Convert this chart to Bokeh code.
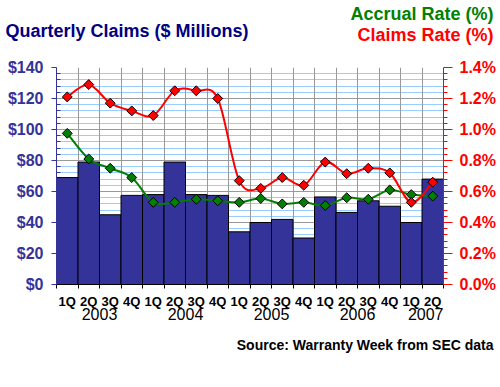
import numpy as np
from bokeh.plotting import figure
from bokeh.models import (Range1d, LinearAxis, FixedTicker, PrintfTickFormatter,
                          Label, Grid)
from bokeh.embed import file_html
from bokeh.resources import INLINE

# ---- data ----
quarters = ["1Q", "2Q", "3Q", "4Q", "1Q", "2Q", "3Q", "4Q", "1Q", "2Q", "3Q", "4Q",
            "1Q", "2Q", "3Q", "4Q", "1Q", "2Q"]
quarter_years = [2003] * 4 + [2004] * 4 + [2005] * 4 + [2006] * 4 + [2007] * 2
years = [2003, 2004, 2005, 2006, 2007]
claims = [69, 79, 45, 57.5, 58, 79, 58, 57.5, 34, 40, 42, 30, 56.5, 46.5, 54, 50.5, 40, 68]
claims_rate = [1.21, 1.29, 1.17, 1.12, 1.09, 1.25, 1.25, 1.20, 0.67, 0.62, 0.69, 0.64,
               0.79, 0.715, 0.75, 0.72, 0.53, 0.66]
accrual_rate = [0.975, 0.81, 0.75, 0.69, 0.53, 0.53, 0.55, 0.54, 0.53, 0.555, 0.52, 0.53,
                0.51, 0.56, 0.55, 0.61, 0.58, 0.57]
claims_ticks = [0, 20, 40, 60, 80, 100, 120, 140]
rate_ticks = [0.0, 0.2, 0.4, 0.6, 0.8, 1.0, 1.2, 1.4]

W, H = 500, 387
FL, FR, FT, FB = 56, 443, 67, 305   # frame edges in canvas pixels
SHIFT = 7                           # label baseline correction (px)
FONT = "Liberation Sans"
NAVY = "#000080"
BAR = "#333399"
GREEN = "#008000"
RED = "#FF0000"

n = len(claims)
centers = np.arange(n) + 0.5
bounds = np.arange(n + 1).astype(float)
YMAX = claims_ticks[-1]

p = figure(width=W, height=H, x_range=Range1d(0, n), y_range=Range1d(0, YMAX),
           x_axis_type=None, y_axis_type=None, output_backend="svg",
           toolbar_location=None, min_border_left=FL, min_border_right=W - FR,
           min_border_top=FT, min_border_bottom=H - FB)
p.outline_line_color = None
p.background_fill_color = "white"
p.border_fill_color = "white"
p.extra_y_ranges = {"rate": Range1d(rate_ticks[0], rate_ticks[-1])}

left_minor = [v for v in np.linspace(0, 140, 36) if v % 20 != 0]
rate_minor = [v / 100.0 for v in left_minor]

# grids
p.add_layout(Grid(dimension=1, ticker=FixedTicker(ticks=claims_ticks, minor_ticks=left_minor),
                  grid_line_color="#999999", minor_grid_line_color="#99CCFF"))
p.add_layout(Grid(dimension=0, ticker=FixedTicker(ticks=list(bounds)),
                  grid_line_color="#999999"))

# left axis
yax = LinearAxis(ticker=FixedTicker(ticks=claims_ticks, minor_ticks=left_minor),
                 formatter=PrintfTickFormatter(format="$%d"))
yax.axis_line_color = BAR
yax.major_tick_line_color = BAR
yax.minor_tick_line_color = BAR
yax.major_tick_out = 5
yax.major_tick_in = 0
yax.minor_tick_out = 0
yax.minor_tick_in = 4
yax.major_label_standoff = 8
yax.major_label_text_color = BAR
yax.major_label_text_font = FONT
yax.major_label_text_font_style = "bold"
yax.major_label_text_font_size = "16px"
p.add_layout(yax, "left")

# right axis
rax = LinearAxis(y_range_name="rate",
                 ticker=FixedTicker(ticks=rate_ticks, minor_ticks=rate_minor),
                 formatter=PrintfTickFormatter(format="%.1f%%"))
rax.axis_line_color = RED
rax.major_tick_line_color = RED
rax.minor_tick_line_color = RED
rax.major_tick_out = 9
rax.major_tick_in = 0
rax.minor_tick_out = 4
rax.minor_tick_in = 0
rax.major_label_standoff = 7
rax.major_label_text_color = RED
rax.major_label_text_font = FONT
rax.major_label_text_font_style = "bold"
rax.major_label_text_font_size = "16px"
p.add_layout(rax, "right")

# bottom axis
xax = LinearAxis(ticker=FixedTicker(ticks=list(centers), minor_ticks=list(bounds)))
xax.major_label_overrides = {float(c): q for c, q in zip(centers, quarters)}
xax.axis_line_color = "black"
xax.major_tick_out = 0
xax.major_tick_in = 0
xax.minor_tick_out = 4
xax.minor_tick_in = 0
xax.minor_tick_line_color = "black"
xax.major_label_standoff = 5
xax.major_label_text_color = "black"
xax.major_label_text_font = FONT
xax.major_label_text_font_style = "bold"
xax.major_label_text_font_size = "13px"
p.add_layout(xax, "below")

# bars
p.vbar(x=centers, width=1, top=claims, bottom=0, fill_color=BAR,
       line_color="black", line_width=1)


def smooth(ys):
    ys = np.asarray(ys, dtype=float)
    xs = centers
    m = len(ys)
    xp = np.concatenate([[xs[0]], xs, [xs[-1]]])
    yp = np.concatenate([[ys[0]], ys, [ys[-1]]])
    i = np.arange(m - 1)
    x0, y0 = xs[:-1], ys[:-1]
    x1, y1 = xs[1:], ys[1:]
    cx0 = x0 + (xp[i + 2] - xp[i]) / 6.0
    cy0 = y0 + (yp[i + 2] - yp[i]) / 6.0
    cx1 = x1 - (xp[i + 3] - xp[i + 1]) / 6.0
    cy1 = y1 - (yp[i + 3] - yp[i + 1]) / 6.0
    return dict(x0=x0, y0=y0, x1=x1, y1=y1, cx0=cx0, cy0=cy0, cx1=cx1, cy1=cy1)


p.bezier(**smooth(accrual_rate), line_color=GREEN, line_width=2, y_range_name="rate")
p.bezier(**smooth(claims_rate), line_color=RED, line_width=2, y_range_name="rate")
p.scatter(centers, accrual_rate, marker="square", angle=np.pi / 4, size=7,
          fill_color=GREEN, line_color="black", line_width=1, y_range_name="rate")
p.scatter(centers, claims_rate, marker="square", angle=np.pi / 4, size=7,
          fill_color=RED, line_color="black", line_width=1, y_range_name="rate")


def px_to_x(cx):
    return (cx - FL) / (FR - FL) * n


def px_to_y(cy):
    return (FB - cy) / (FB - FT) * YMAX


def add_label(text, x, y_base, color, size, bold=True, align="left",
              place="above", x_is_px=True):
    xx = px_to_x(x) if x_is_px else x
    p.add_layout(Label(x=xx, y=px_to_y(y_base - SHIFT), x_units="data", y_units="data",
                       text=text, text_font=FONT,
                       text_font_style="bold" if bold else "normal",
                       text_font_size=size, text_color=color, text_align=align,
                       text_baseline="alphabetic"), place)


add_label("Quarterly Claims ($ Millions)", 5, 34.5, NAVY, "18px")
add_label("Accrual Rate (%)", 493, 15.5, GREEN, "18px", align="right")
add_label("Claims Rate (%)", 493, 38.5, RED, "18px", align="right")
add_label("Source: Warranty Week from SEC data", 493, 378, "black", "14px",
          align="right", place="below")

# year labels under the quarter labels
qy = np.array(quarter_years)
for yr in years:
    idx = np.where(qy == yr)[0]
    if len(idx) == 4:
        add_label(str(yr), (idx[0] + idx[-1] + 1) / 2.0, 344.5, "black", "16px",
                  bold=False, align="center", place="below", x_is_px=False)
    else:
        add_label(str(yr), idx[-1] + 1.0, 344.5, "black", "16px",
                  bold=False, align="right", place="below", x_is_px=False)

open("out.html", "w").write(file_html(p, INLINE))
